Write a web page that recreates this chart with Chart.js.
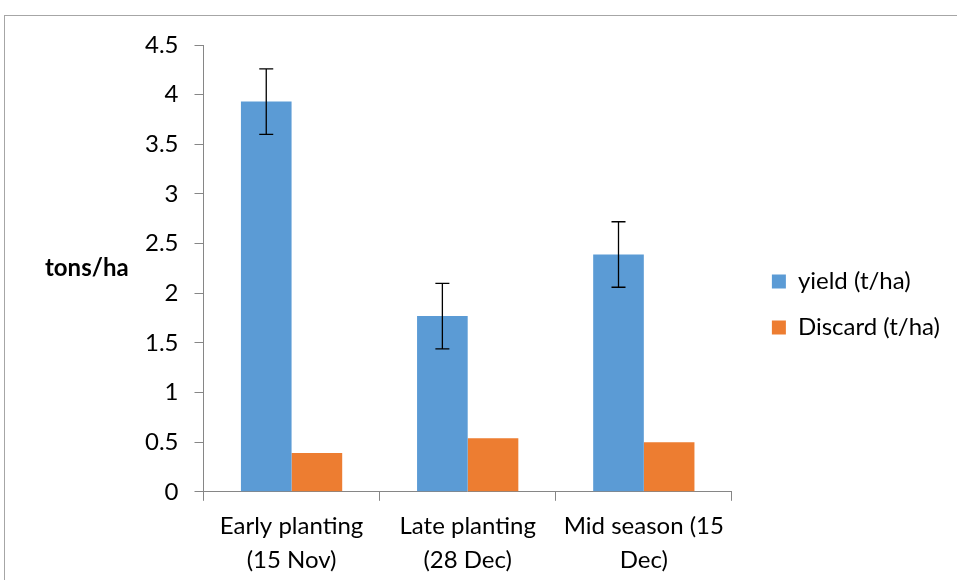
<!DOCTYPE html>
<html>
<head>
<meta charset="utf-8">
<script src="https://cdn.jsdelivr.net/npm/chart.js@4.4.1/dist/chart.umd.min.js"></script>
<style>
  html, body { margin: 0; padding: 0; background: #fff; }
  #wrap { position: relative; width: 957px; height: 580px; }
</style>
</head>
<body>
<div id="wrap"><canvas id="chart" width="957" height="580"></canvas></div>
<script>
    "use strict";

    // Data
    var categories = [['Early planting', '(15 Nov)'], ['Late planting', '(28 Dec)'], ['Mid season (15', 'Dec)']];
    var yieldValues = [3.93, 1.77, 2.39];
    var yieldErrors = [0.33, 0.33, 0.33];
    var discardValues = [0.39, 0.54, 0.50];
    var seriesNames = ['yield (t/ha)', 'Discard (t/ha)'];
    var yAxisTitle = 'tons/ha';

    var FONT = 'Lato, "Liberation Sans", sans-serif';

    // Error bars, axis title, legend nudge and outer frame
    var extras = {
        id: 'extras',
        afterUpdate: function (chart) {
            var lg = chart.legend;
            lg.left += 18; lg.right += 18;
            lg.top -= 11; lg.bottom -= 11;
        },
        afterDatasetsDraw: function (chart) {
            var ctx = chart.ctx;
            var y = chart.scales.y;
            var meta = chart.getDatasetMeta(0);
            ctx.save();
            ctx.strokeStyle = '#000';
            ctx.lineWidth = 1.3;
            meta.data.forEach(function (bar, i) {
                var v = yieldValues[i], e = yieldErrors[i];
                var top = y.getPixelForValue(v + e);
                var bot = y.getPixelForValue(v - e);
                ctx.beginPath();
                ctx.moveTo(bar.x, top); ctx.lineTo(bar.x, bot);
                ctx.moveTo(bar.x - 7, top); ctx.lineTo(bar.x + 7, top);
                ctx.moveTo(bar.x - 7, bot); ctx.lineTo(bar.x + 7, bot);
                ctx.stroke();
            });
            ctx.restore();
        },
        afterDraw: function (chart) {
            var ctx = chart.ctx;
            var area = chart.chartArea;
            ctx.save();
            ctx.fillStyle = '#000';
            ctx.font = 'bold 24px ' + FONT;
            ctx.textBaseline = 'middle';
            ctx.fillText(yAxisTitle, 45, (area.top + area.bottom) / 2);
            ctx.strokeStyle = '#a6a6a6';
            ctx.lineWidth = 1;
            ctx.strokeRect(4.5, 15.5, 1200, 1200);
            ctx.restore();
        }
    };

    var ctx = document.getElementById('chart').getContext('2d');
    var myChart = new Chart(ctx, {
        type: 'bar',
        data: {
            labels: categories,
            datasets: [{
                label: seriesNames[0],
                data: yieldValues,
                backgroundColor: '#5b9bd5'
            },
            {
                label: seriesNames[1],
                data: discardValues,
                backgroundColor: '#ed7d31'
            }]
        },
        options: {
            responsive: false,
            animation: false,
            layout: { padding: { left: 129, top: 45, right: 25, bottom: -6 } },
            datasets: { bar: { categoryPercentage: 0.575, barPercentage: 1 } },
            plugins: {
                legend: {
                    position: 'right',
                    labels: {
                        color: '#000',
                        font: { family: FONT, size: 24 },
                        boxWidth: 14,
                        boxHeight: 14,
                        padding: 22
                    }
                },
                tooltip: { enabled: false }
            },
            scales: {
                x: {
                    grid: { drawOnChartArea: false, color: '#868686', tickLength: 9 },
                    border: { color: '#868686' },
                    ticks: { color: '#000', font: { family: FONT, size: 24, lineHeight: 1.4 }, padding: 9, maxRotation: 0 }
                },
                y: {
                    min: 0,
                    max: 4.5,
                    grid: { drawOnChartArea: false, color: '#868686', tickLength: 9 },
                    border: { color: '#868686' },
                    ticks: {
                        stepSize: 0.5,
                        color: '#000',
                        font: { family: FONT, size: 24 },
                        padding: 16,
                        callback: function (v) { return String(v); }
                    }
                }
            }
        },
        plugins: [extras]
    });
</script>
</body>
</html>
